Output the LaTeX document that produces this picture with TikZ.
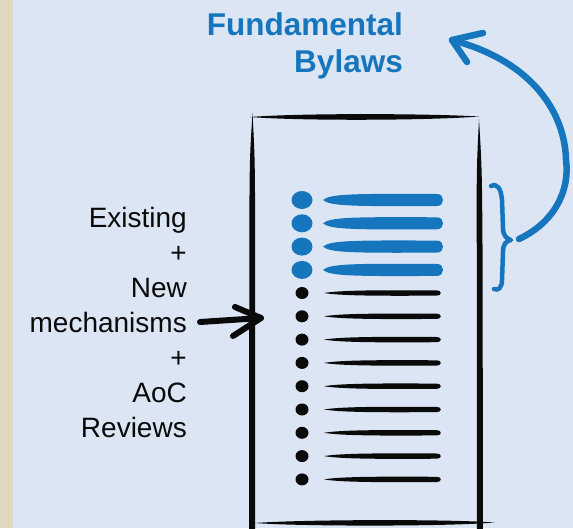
\documentclass[tikz,border=0pt]{standalone}
\usepackage{fontspec}
\setmainfont{Liberation Sans}
\definecolor{bg}{RGB}{219,229,244}
\definecolor{strip}{RGB}{224,217,193}
\definecolor{ink}{RGB}{22,118,189}
\definecolor{pen}{RGB}{10,10,10}
\begin{document}
\begin{tikzpicture}[x=1pt,y=-1pt,
  bluestroke/.style={draw=ink,line width=6.5pt,line cap=round,line join=round},
  blackstroke/.style={draw=pen,line width=6pt,line cap=round,line join=round},
  bracestroke/.style={draw=ink,line width=4.5pt,line cap=round,line join=round}]
\fill[bg] (0,0) rectangle (573,528);
\fill[strip] (0,0) rectangle (13,528);
\useasboundingbox (0,0) rectangle (573,528);

% title
\node[anchor=base east, align=right, inner sep=0pt, text=ink,
      font=\bfseries\fontsize{31.5}{37}\selectfont] (title) at (403,72) {Fundamental\\Bylaws};
% left label
\node[anchor=base east, align=right, inner sep=0pt, text=pen,
      font=\fontsize{28}{35}\selectfont] (label) at (187,437)
      {Existing\\+\\New\\mechanisms\\+\\AoC\\Reviews};

% box (hand-drawn strokes)
\fill[pen] (250,117) .. controls (300,113) and (430,113.5) .. (479,116.5)
   .. controls (430,120.5) and (300,121) .. (250,117) -- cycle;
\fill[pen] (252.5,113) .. controls (249.5,160) .. (249.3,260) -- (249,560)
   -- (255,560) -- (255.2,260) .. controls (255,160) .. (252.5,113) -- cycle;
\fill[pen] (479,119) .. controls (476.5,170) .. (476.8,260) -- (477,560)
   -- (483,560) -- (482.6,260) .. controls (482,170) .. (479,119) -- cycle;
\fill[pen] (255,523) .. controls (300,519.5) and (450,519) .. (494,522.5)
   .. controls (450,526.5) and (300,526.5) .. (255,523) -- cycle;

% blue rows
\foreach \i in {0,...,3}{
  \pgfmathsetmacro\y{200+23.3*\i}
  \fill[ink] (302,\y) ellipse [x radius=10.5pt, y radius=9pt];
  \fill[ink] (323,\y) .. controls (330,\y-6) and (350,\y-6.5) .. (437,\y-6)
     .. controls (445,\y-6) and (445,\y+6) .. (437,\y+6)
     .. controls (350,\y+6.5) and (330,\y+6) .. (323,\y) -- cycle;
}
% black rows
\foreach \i in {0,...,8}{
  \pgfmathsetmacro\y{293+23.3*\i}
  \fill[pen] (302,\y) ellipse [x radius=6.5pt, y radius=6pt];
  \fill[pen] (324,\y) .. controls (340,\y-2.8) and (380,\y-3) .. (437,\y-2.6)
     .. controls (442,\y-2.6) and (442,\y+2.6) .. (437,\y+2.6)
     .. controls (380,\y+3) and (340,\y+2.8) .. (324,\y) -- cycle;
}

% black arrow into the box
\coordinate (inS) at (200,322);
\coordinate (inT) at (261,318);
\coordinate (inA) at (235,307);
\coordinate (inB) at (233,336);
\draw[blackstroke] (inS) -- (inT);
\draw[blackstroke] (inA) -- (inT) -- (inB);

% brace
\coordinate (brTip) at (511,240);
\draw[bracestroke] (491,186) .. controls (497,183) and (501,188) .. (502,200) -- (503,228)
   .. controls (503,236) and (507,239) .. (brTip)
   .. controls (506,241) and (503,244) .. (503,252) -- (502,280)
   .. controls (502,288) and (498,291) .. (494,289);

% curved blue arrow to title
\coordinate (cS) at (519,239);
\coordinate (cM) at (566,160);
\coordinate (cT) at (452,40);
\coordinate (cA) at (483,33);
\coordinate (cB) at (467,62);
\draw[bluestroke] (cS) .. controls (555,222) and (570,190) .. (cM)
   .. controls (565,115) and (535,62) .. (cT);
\draw[bluestroke] (cA) -- (cT) -- (cB);
\end{tikzpicture}
\end{document}
